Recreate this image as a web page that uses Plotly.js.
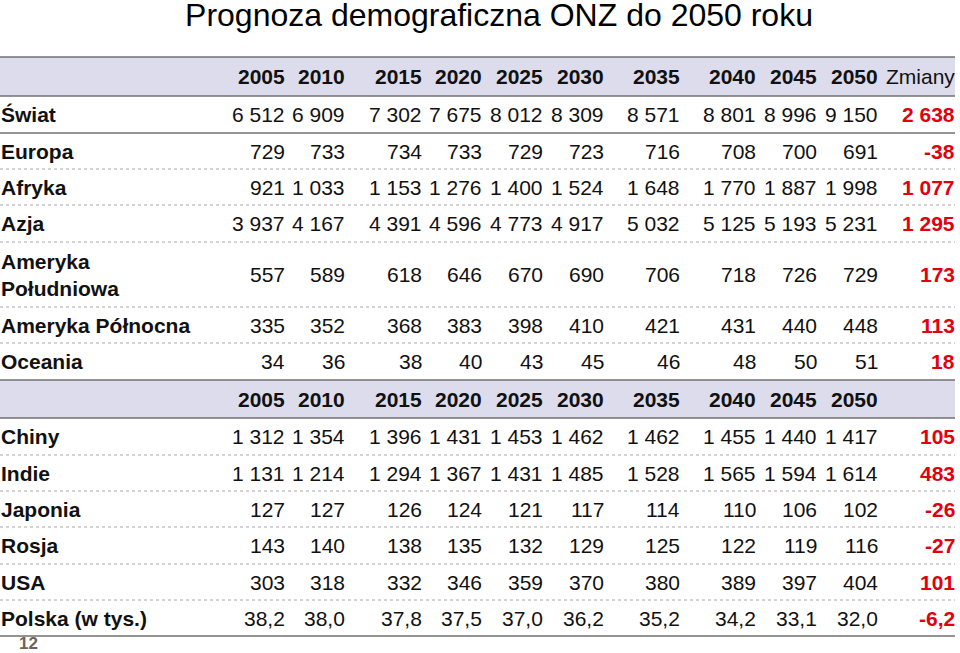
<!DOCTYPE html>
<html>
<head>
<meta charset="utf-8">
<script src="https://cdn.plot.ly/plotly-3.0.1.min.js"></script>
<style>
  html, body { margin: 0; padding: 0; background: #fff; }
  #chart { width: 960px; height: 653px; }
</style>
</head>
<body>
<div id="chart"></div>
<script>
/* ---- Data (UN population forecast, mln) ---- */
const YEARS = [2005, 2010, 2015, 2020, 2025, 2030, 2035, 2040, 2045, 2050];
const CHANGE_LABEL = 'Zmiany';

const REGION_NAMES = ['Świat', 'Europa', 'Afryka', 'Azja', 'Ameryka<br>Południowa', 'Ameryka Północna', 'Oceania'];
const SWIAT        = [6512, 6909, 7302, 7675, 8012, 8309, 8571, 8801, 8996, 9150];
const EUROPA       = [729, 733, 734, 733, 729, 723, 716, 708, 700, 691];
const AFRYKA       = [921, 1033, 1153, 1276, 1400, 1524, 1648, 1770, 1887, 1998];
const AZJA         = [3937, 4167, 4391, 4596, 4773, 4917, 5032, 5125, 5193, 5231];
const AM_POLUDNIE  = [557, 589, 618, 646, 670, 690, 706, 718, 726, 729];
const AM_POLNOC    = [335, 352, 368, 383, 398, 410, 421, 431, 440, 448];
const OCEANIA      = [34, 36, 38, 40, 43, 45, 46, 48, 50, 51];
const REGION_CHANGE = [2638, -38, 1077, 1295, 173, 113, 18];

const COUNTRY_NAMES = ['Chiny', 'Indie', 'Japonia', 'Rosja', 'USA', 'Polska (w tys.)'];
const CHINY   = [1312, 1354, 1396, 1431, 1453, 1462, 1462, 1455, 1440, 1417];
const INDIE   = [1131, 1214, 1294, 1367, 1431, 1485, 1528, 1565, 1594, 1614];
const JAPONIA = [127, 127, 126, 124, 121, 117, 114, 110, 106, 102];
const ROSJA   = [143, 140, 138, 135, 132, 129, 125, 122, 119, 116];
const USA     = [303, 318, 332, 346, 359, 370, 380, 389, 397, 404];
const POLSKA  = [38.2, 38.0, 37.8, 37.5, 37.0, 36.2, 35.2, 34.2, 33.1, 32.0];
const COUNTRY_CHANGE = [105, 483, -26, -27, 101, -6.2];
const COUNTRY_DECIMALS = [0, 0, 0, 0, 0, 1];

const TITLE = 'Prognoza demograficzna ONZ do 2050 roku';
const PAGE_NO = '12';

/* ---- Layout constants (px) ---- */
const W = 960, H = 653;
const FONT = 'Arial, "Liberation Sans", sans-serif';
const FS = 21;
const RED = '#e2000f';
const BAND = '#dcdcec';
const SOLID = '#707070';
const DOT = '#a8a8a8';
const LABEL_X = 0;
const RIGHT_EDGE = 955;
const COL_RIGHT = [287, 347, 424, 484, 545, 606, 682, 758, 819, 880];
const CHANGE_RIGHT = 957;
const TABLE_TOP = 57;
const HEADER_H = [39, 38];
const REGION_H = [37, 36, 36, 37, 65, 36, 37];
const COUNTRY_H = [37, 36, 36, 37, 36, 36];

function fmt(v, dec) {
  const neg = v < 0;
  let s = Math.abs(v).toFixed(dec);
  let [intPart, frac] = s.split('.');
  intPart = intPart.replace(/\B(?=(\d{3})+(?!\d))/g, ' ');
  return (neg ? '-' : '') + intPart + (frac ? ',' + frac : '');
}

const annotations = [];
const shapes = [];

function txt(x, y, text, opts) {
  annotations.push(Object.assign({
    x: x, y: y, xref: 'x', yref: 'y', text: text, showarrow: false,
    xanchor: 'right', yanchor: 'middle',
    font: { family: FONT, size: FS, color: '#111' },
  }, opts || {}));
}
function hline(y, style) {
  shapes.push({
    type: 'line', xref: 'x', yref: 'y', x0: 0, x1: RIGHT_EDGE, y0: y, y1: y,
    line: style === 'dot' ? { color: DOT, width: 1, dash: 'dot' } : { color: SOLID, width: 1.6 },
    layer: 'above',
  });
}
function headerRow(top, h, withChange) {
  shapes.push({
    type: 'rect', xref: 'x', yref: 'y', x0: 0, x1: RIGHT_EDGE, y0: top, y1: top + h,
    fillcolor: BAND, line: { width: 0 }, layer: 'below',
  });
  const yc = top + h / 2;
  YEARS.forEach((yr, i) => txt(COL_RIGHT[i], yc, '<b>' + yr + '</b>'));
  if (withChange) txt(CHANGE_RIGHT, yc, CHANGE_LABEL);
  hline(top, 'solid');
  hline(top + h, 'solid');
}
function dataRows(top, names, series, changes, heights, decimals) {
  let y = top;
  names.forEach((name, r) => {
    const h = heights[r];
    const yc = y + h / 2;
    const dec = decimals ? decimals[r] : 0;
    txt(LABEL_X, yc, '<b>' + name + '</b>', { xanchor: 'left', align: 'left', xshift: -1 });
    series[r].forEach((v, i) => txt(COL_RIGHT[i], yc, fmt(v, dec)));
    txt(CHANGE_RIGHT, yc, '<b>' + fmt(changes[r], dec) + '</b>', { font: { family: FONT, size: FS, color: RED } });
    y += h;
    if (r < names.length - 1) hline(y, r === 0 && names === REGION_NAMES ? 'solid' : 'dot');
  });
  return y;
}

let y = TABLE_TOP;
headerRow(y, HEADER_H[0], true);
y += HEADER_H[0];
y = dataRows(y, REGION_NAMES, [SWIAT, EUROPA, AFRYKA, AZJA, AM_POLUDNIE, AM_POLNOC, OCEANIA], REGION_CHANGE, REGION_H);
headerRow(y, HEADER_H[1], false);
y += HEADER_H[1];
y = dataRows(y, COUNTRY_NAMES, [CHINY, INDIE, JAPONIA, ROSJA, USA, POLSKA], COUNTRY_CHANGE, COUNTRY_H, COUNTRY_DECIMALS);
hline(y, 'solid');

// page number
txt(28, y + 7, '<b>' + PAGE_NO + '</b>', { xanchor: 'center', font: { family: FONT, size: 17, color: '#6e6259' } });

const layout = {
  width: W, height: H,
  margin: { l: 0, r: 0, t: 0, b: 0 },
  paper_bgcolor: '#fff', plot_bgcolor: '#fff',
  title: {
    text: TITLE, font: { family: FONT, size: 32, color: '#000' },
    x: 499 / W, xanchor: 'center', y: 1 - 15 / H, yanchor: 'middle', yref: 'container',
  },
  xaxis: { range: [0, W], visible: false, fixedrange: true },
  yaxis: { range: [H, 0], visible: false, fixedrange: true },
  showlegend: false,
  annotations: annotations,
  shapes: shapes,
};

Plotly.newPlot('chart', [], layout, { displayModeBar: false, staticPlot: true });
</script>
</body>
</html>
